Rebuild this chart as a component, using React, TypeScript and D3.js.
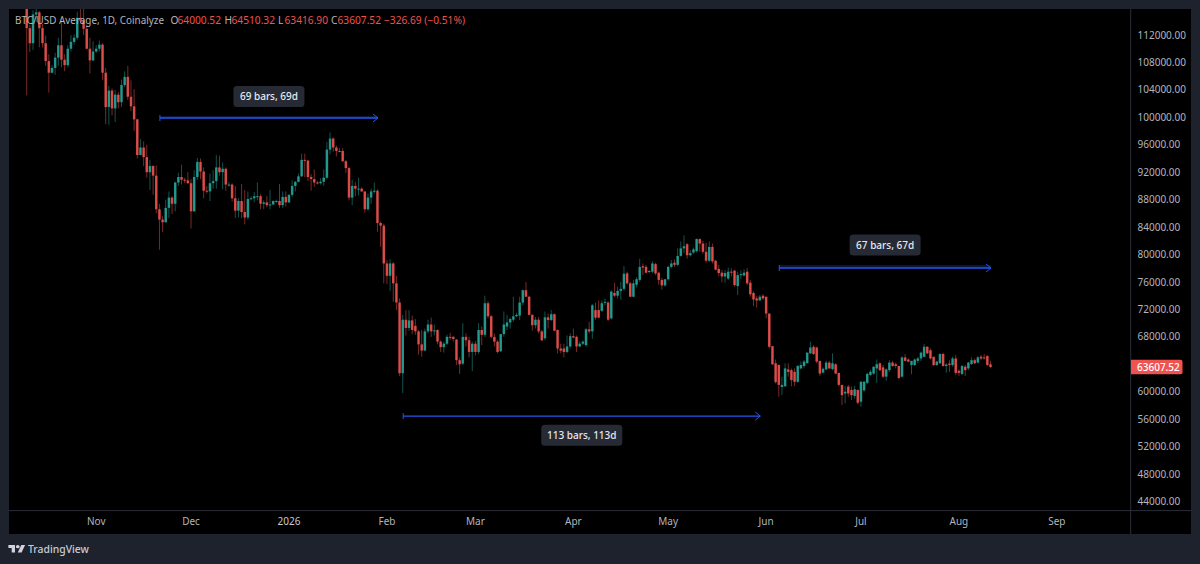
import React from 'react';
import * as d3 from 'd3';

// Daily OHLC in thousands of USD, one value per bar from 2025-10-10
const opens = [
121.5,113.0,110.8,115.0,115.3,113.0,110.8,108.2,106.5,107.2,
108.7,110.5,108.4,107.6,110.0,111.0,111.6,114.5,114.1,112.9,
110.0,108.3,109.6,110.0,110.6,106.5,101.5,103.9,101.3,103.3,
102.2,104.7,105.9,103.0,101.6,99.7,94.5,95.6,94.2,92.0,
92.9,91.5,86.6,85.1,84.7,86.8,88.3,87.4,90.5,91.3,
90.9,90.8,90.4,86.3,91.3,93.5,92.1,89.3,89.2,90.4,
90.7,92.7,92.0,92.5,90.2,90.2,88.2,86.4,87.8,86.2,
85.4,88.1,88.2,88.5,88.5,87.4,87.6,87.2,87.3,87.8,
87.8,87.2,88.4,87.6,88.7,90.0,90.6,91.4,93.8,93.7,
91.3,91.0,90.5,90.4,90.6,91.2,95.3,96.9,95.6,95.1,
95.1,93.6,92.6,88.3,90.0,89.6,89.6,89.2,86.6,88.3,
89.2,89.3,84.6,84.2,78.7,76.9,78.7,75.8,73.0,62.7,
70.5,69.3,70.4,69.6,68.8,66.9,66.0,68.8,69.8,68.8,
69.0,67.3,66.5,67.0,68.0,68.0,67.6,64.6,64.1,68.0,
67.5,65.8,67.0,65.8,69.0,68.3,72.9,71.0,68.0,67.3,
65.9,68.4,69.5,70.1,70.5,71.0,71.1,73.0,74.8,73.85,
71.2,69.7,70.5,68.8,67.8,70.85,70.45,71.3,69.0,66.3,
66.3,65.8,66.6,68.1,68.0,66.6,67.0,66.8,69.1,68.8,
71.9,71.9,71.8,73.0,73.0,70.7,74.4,74.0,74.7,75.0,
77.25,75.8,73.85,75.6,76.3,78.3,78.2,77.5,77.5,78.6,
77.35,76.3,75.5,76.4,78.2,78.8,78.5,79.8,80.9,81.5,
79.9,80.3,80.5,82.25,81.6,80.4,79.1,81.1,79.1,77.9,
77.35,76.8,76.5,77.5,77.65,75.4,77.0,76.95,77.5,75.9,
74.4,73.6,73.3,74.0,73.85,71.4,66.65,64.15,63.9,60.7,
60.8,63.25,63.15,62.9,61.45,63.4,63.75,64.15,65.6,66.55,
66.45,64.5,62.8,63.25,64.25,63.3,64.0,62.75,61.0,59.75,
60.75,60.25,59.4,60.25,58.55,60.2,61.3,62.45,62.65,63.4,
64.15,63.55,62.2,63.15,64.25,64.0,63.75,62.2,65.0,64.7,
63.9,63.9,64.5,64.85,65.1,66.55,66.05,65.1,63.9,64.15,
65.5,63.75,64.1,63.9,64.85,63.05,62.6,63.65,63.4,64.05,
64.6,64.25,65.1,65.0,65.2,64.00052];

const highs = [
122.5,113.5,115.6,115.9,115.5,113.6,111.9,109.2,107.6,109.4,
111.6,114.0,109.2,110.5,112.0,112.1,115.4,116.2,116.0,113.5,
111.6,111.1,110.5,111.2,110.8,107.2,104.6,104.2,104.0,103.7,
105.5,106.7,107.5,105.4,104.1,99.8,96.8,96.5,96.0,93.8,
93.0,93.0,87.4,85.6,88.0,89.2,88.5,90.6,91.9,93.1,
91.2,92.0,91.0,92.3,94.1,94.0,92.7,90.0,91.8,92.3,
94.5,94.4,93.4,92.7,90.6,90.4,90.0,88.2,90.3,89.4,
89.2,88.5,89.1,90.5,88.8,87.9,88.5,89.4,87.9,88.0,
90.3,89.2,89.2,88.8,90.8,90.7,91.8,94.7,94.7,93.8,
91.7,92.4,90.7,91.1,92.4,96.4,97.8,97.1,95.9,95.5,
95.5,93.8,92.8,90.9,90.6,91.2,89.8,89.2,88.9,89.6,
90.5,89.5,84.8,84.5,79.2,79.3,78.9,76.9,73.6,71.2,
71.9,71.9,71.1,70.6,69.0,69.0,69.2,70.5,70.8,69.8,
69.1,67.5,67.3,68.3,68.6,68.1,67.7,65.0,70.0,68.5,
68.0,67.3,67.4,70.0,69.5,74.0,73.2,71.2,68.5,67.5,
68.4,71.7,71.2,70.8,73.85,71.5,73.85,74.9,76.0,74.0,
71.3,70.9,70.9,69.0,71.7,71.4,71.9,71.4,69.1,67.0,
67.0,68.2,68.5,69.2,68.2,67.3,67.5,69.3,70.2,72.8,
73.0,73.3,73.3,73.6,73.2,74.8,75.9,75.3,76.0,78.3,
77.5,76.0,76.3,76.7,79.4,78.7,78.5,77.75,79.0,78.8,
77.5,76.6,76.4,78.4,79.2,79.3,80.9,81.9,82.8,81.7,
80.6,81.0,82.35,82.35,82.0,81.7,81.9,81.6,79.2,78.5,
77.75,77.75,78.1,78.0,77.75,77.5,77.7,77.85,78.0,76.3,
74.6,73.95,74.1,74.2,73.85,71.4,66.65,64.7,64.0,62.2,
64.15,64.15,63.4,63.4,63.9,64.4,64.6,65.7,67.3,66.8,
66.55,64.5,63.55,64.5,64.5,65.6,64.15,62.75,61.0,60.85,
61.0,60.75,60.85,60.35,61.55,61.6,62.8,63.2,63.65,64.7,
64.25,63.9,63.4,64.6,64.5,64.25,63.75,65.2,65.5,64.85,
64.5,64.85,65.1,65.85,66.95,66.65,66.3,65.1,64.5,65.6,
65.7,64.15,64.6,65.1,65.35,63.25,63.9,63.9,64.35,65.0,
64.85,65.2,65.35,65.5,65.35,64.51032];

const lows = [
103.2,109.5,109.8,113.9,110.2,110.2,107.5,103.6,106.4,106.2,
107.5,107.3,106.7,107.3,109.6,110.6,111.3,113.8,112.0,109.9,
106.4,108.2,109.4,109.6,105.4,99.0,98.9,100.3,99.3,101.3,
101.5,104.4,102.5,100.9,98.0,94.0,94.9,92.9,91.2,89.4,
88.7,86.0,80.7,83.3,84.7,85.3,85.9,86.3,90.0,90.2,
90.4,90.3,83.8,86.2,90.9,91.0,88.2,88.9,87.8,89.6,
89.6,91.5,89.5,89.3,89.9,87.7,85.3,85.4,85.3,84.4,
85.1,87.9,87.6,87.9,86.6,86.6,86.9,86.6,87.2,87.5,
86.8,86.8,87.0,87.5,88.4,89.2,90.5,91.3,91.3,90.7,
89.3,89.9,90.2,90.2,90.0,91.0,94.6,95.0,94.3,94.9,
93.5,91.9,87.9,87.2,88.5,88.6,89.1,86.1,86.4,87.4,
88.9,83.3,81.1,75.8,75.7,74.7,73.1,71.9,62.3,59.8,
68.2,68.9,68.4,68.3,65.4,65.1,65.9,68.5,68.0,68.2,
66.9,65.8,65.7,66.8,67.5,67.3,63.9,62.6,63.9,66.6,
65.0,63.0,65.3,65.5,66.8,68.0,70.7,67.8,66.6,65.6,
65.8,68.0,69.0,69.2,70.2,70.9,70.45,72.6,73.8,71.1,
68.9,69.2,68.5,67.4,67.5,69.2,70.3,68.8,65.6,65.6,
65.0,65.6,66.3,67.8,65.8,66.5,66.8,66.55,68.5,67.7,
70.5,70.7,71.6,72.6,70.3,70.5,73.8,73.6,73.4,74.7,
75.6,73.85,73.75,75.2,76.0,77.0,77.25,77.25,77.25,77.0,
75.6,74.9,75.3,76.2,78.0,78.2,78.3,79.7,80.2,79.4,
79.7,80.1,80.3,80.4,80.1,78.8,78.9,78.7,77.7,76.8,
76.0,75.9,76.3,76.8,75.3,74.1,76.4,76.8,75.5,73.85,
72.5,72.3,73.3,73.4,70.7,66.3,63.9,61.2,59.3,59.5,
60.7,62.2,60.8,60.8,61.3,63.25,63.4,64.15,65.5,65.35,
64.15,62.3,62.65,63.15,63.3,63.15,62.55,60.75,58.05,58.3,
59.25,58.8,59.0,58.2,57.8,60.0,61.1,62.3,62.45,61.3,
63.0,62.0,61.6,62.9,63.65,63.4,61.8,62.05,64.4,64.25,
62.55,63.75,64.15,64.5,65.0,65.5,64.7,63.75,63.75,64.05,
63.65,62.75,62.9,63.65,62.4,62.3,62.4,62.3,63.15,63.9,
64.0,64.15,64.6,64.7,63.75,63.4169];

const closes = [
113.0,110.8,115.0,115.3,113.0,110.8,108.2,106.5,107.2,108.7,
110.5,108.4,107.6,110.0,111.0,111.6,114.5,114.1,112.9,110.0,
108.3,109.6,110.0,110.6,106.5,101.5,103.9,101.3,103.3,102.2,
104.7,105.9,103.0,101.6,99.7,94.5,95.6,94.2,92.0,92.9,
91.5,86.6,85.1,84.7,86.8,88.3,87.4,90.5,91.3,90.9,
90.8,90.4,86.3,91.3,93.5,92.1,89.3,89.2,90.4,90.7,
92.7,92.0,92.5,90.2,90.2,88.2,86.4,87.8,86.2,85.4,
88.1,88.2,88.5,88.5,87.4,87.6,87.2,87.3,87.8,87.8,
87.2,88.4,87.6,88.7,90.0,90.6,91.4,93.8,93.7,91.3,
91.0,90.5,90.4,90.6,91.2,95.3,96.9,95.6,95.1,95.1,
93.6,92.6,88.3,90.0,89.6,89.6,89.2,86.6,88.3,89.2,
89.3,84.6,84.2,78.7,76.9,78.7,75.8,73.0,62.7,70.5,
69.3,70.4,69.0,68.8,66.9,66.0,68.8,69.8,68.8,68.95,
67.3,66.5,67.0,68.0,67.9,67.7,64.6,64.0,68.0,67.5,
65.8,67.0,65.8,69.0,68.3,72.9,71.0,68.0,67.3,65.8,
68.4,69.8,70.1,70.6,71.0,71.2,73.0,74.8,73.85,71.2,
69.7,70.5,68.8,67.5,70.85,70.45,71.3,68.9,66.3,66.0,
65.8,66.6,68.1,67.9,66.6,67.0,67.3,69.1,68.8,72.6,
70.8,70.8,72.9,73.1,70.5,74.6,74.0,74.7,75.0,77.2,
75.8,73.85,75.8,76.4,78.2,78.1,77.35,77.6,78.7,77.25,
76.3,75.5,76.4,78.2,78.7,78.5,79.8,80.9,81.2,79.9,
80.2,80.75,82.25,81.6,80.4,79.1,81.1,79.0,77.8,77.3,
76.8,77.3,77.5,77.4,75.55,77.0,77.15,77.35,75.8,74.2,
73.45,73.3,73.85,73.6,71.4,66.55,64.0,61.4,61.0,61.0,
63.4,62.9,61.7,61.45,63.75,63.9,64.4,65.7,66.45,65.5,
64.4,62.65,63.35,64.25,63.4,64.15,62.65,61.0,59.5,60.0,
59.75,59.5,60.35,58.4,61.45,61.45,62.6,62.9,63.65,64.0,
63.15,62.2,63.25,64.25,63.75,63.75,62.0,65.0,64.5,64.4,
64.5,64.7,64.85,65.7,66.55,65.6,64.85,63.9,64.4,65.5,
63.75,63.95,63.9,64.85,62.75,62.75,63.75,63.15,64.25,64.6,
64.15,65.0,64.85,64.85,63.9,63.60752];

const priceTicks = [112,108,104,100,96,92,88,84,80,76,72,68,60,56,52,48,44];
const monthDates = ['2025-11-01','2025-12-01','2026-01-01','2026-02-01','2026-03-01','2026-04-01','2026-05-01','2026-06-01','2026-07-01','2026-08-01','2026-09-01'];
const monthLabels = ['Nov','Dec','2026','Feb','Mar','Apr','May','Jun','Jul','Aug','Sep'];

const rangeStarts = [42, 119, 238];
const rangeEnds = [111, 232, 305];
const rangeLevels = [99.9, 56.45, 78.03];
const rangeTexts = ['69 bars, 69d', '113 bars, 113d', '67 bars, 67d'];
const rangeBoxLevels = [103.04, 53.65, 81.4];
const rangeBands = [0.3, 0, 0.45];

const firstBar = new Date('2025-10-10T00:00:00Z');
const lastPrice = 63.60752;

const UP = '#26a69a';
const DOWN = '#ef5350';
const MUTED = '#b2b5be';
const FONT = '"Noto Sans", "Open Sans", sans-serif';

const x = d3.scaleLinear().domain([0, 326]).range([26.7, 26.7 + 326 * 3.16]);
const y = d3.scaleLinear().domain([44, 112]).range([501.5, 35]);
const barOf = (s: string) => d3.utcDay.count(firstBar, new Date(s + 'T00:00:00Z'));

const legendParts: [number, string, string, number | undefined][] = [
  [15, 'BTC/USD Average, 1D, Coinalyze', MUTED, 149],
  [170.5, 'O', MUTED, undefined], [177.5, '64000.52', DOWN, undefined],
  [224.5, 'H', MUTED, undefined], [231.5, '64510.32', DOWN, undefined],
  [278, 'L', MUTED, undefined], [284.5, '63416.90', DOWN, undefined],
  [331, 'C', MUTED, undefined], [337.5, '63607.52', DOWN, undefined],
  [384, '\u2212326.69 (\u22120.51%)', DOWN, undefined],
];

export default function App() {
  return (
    <svg width={1200} height={564} style={{ position: 'fixed', left: 0, top: 0, display: 'block' }} fontFamily={FONT}>
      <defs>
        <clipPath id="pane"><rect x={9} y={9} width={1122} height={501} /></clipPath>
      </defs>
      <rect width={1200} height={564} fill="#1e222d" />
      <rect x={9} y={9} width={1182} height={525} fill="#000" />
      <line x1={1130.7} x2={1130.7} y1={9} y2={534} stroke="#2a2e39" />
      <line x1={9} x2={1191} y1={510.6} y2={510.6} stroke="#2a2e39" />

      <g clipPath="url(#pane)">
        {closes.map((c, i) => {
          const col = c >= opens[i] ? UP : DOWN;
          const top = y(Math.max(c, opens[i]));
          const bot = y(Math.min(c, opens[i]));
          return (
            <g key={i}>
              <line x1={x(i)} x2={x(i)} y1={y(highs[i])} y2={y(lows[i])} stroke={col} strokeOpacity={0.5} strokeWidth={1} />
              <rect x={x(i) - 1.25} width={2.5} y={top} height={Math.max(bot - top, 1)} fill={col} fillOpacity={0.88} />
            </g>
          );
        })}
      </g>

      {rangeTexts.map((t, k) => {
        const x1 = x(rangeStarts[k]) + 0.5;
        const x2 = x(rangeEnds[k]) + 0.5;
        const ly = y(rangeLevels[k]);
        const by = y(rangeBoxLevels[k]);
        const cx = (x1 + x2) / 2;
        const w = t.length > 12 ? 81 : 71;
        return (
          <g key={t}>
            <rect x={x1} width={x2 - x1} y={y(rangeLevels[k] + rangeBands[k])} height={ly - y(rangeLevels[k] + rangeBands[k])} fill="#2962ff" fillOpacity={0.22} />
            <line x1={x1} x2={x2} y1={ly} y2={ly} stroke="#2457ee" strokeWidth={k === 1 ? 1.1 : 1.5} />
            <line x1={x1} x2={x1} y1={ly - 3} y2={ly + 3} stroke="#2457ee" strokeWidth={1} />
            <path d={`M${x2 - 5},${ly - 4}L${x2},${ly}L${x2 - 5},${ly + 4}`} fill="none" stroke="#2457ee" strokeWidth={1} />
            <rect x={cx - w / 2} y={by - 10.5} width={w} height={21} rx={3.5} fill="#262a35" />
            <text x={cx} y={by + 3.6} textAnchor="middle" fontSize={10} fontWeight={500} fill="#e6e8ee">{t}</text>
          </g>
        );
      })}

      {legendParts.map(([lx, s, col, len]) => (
        <text key={s} x={lx} y={24} fontSize={10.2} fill={col} textLength={len} lengthAdjust={len ? 'spacingAndGlyphs' : undefined}>{s}</text>
      ))}

      {priceTicks.map((t) => (
        <text key={t} x={1137.5} y={y(t) + 3.6} fontSize={10} fill={MUTED}>{(t * 1000).toFixed(2)}</text>
      ))}
      <path d={`M1131,${y(lastPrice) - 7.2}h49.5a2,2 0 0 1 2,2v10.4a2,2 0 0 1 -2,2h-49.5z`} fill={DOWN} />
      <text x={1137} y={y(lastPrice) + 3.6} fontSize={10} fontWeight={500} fill="#fff">{(lastPrice * 1000).toFixed(2)}</text>

      {monthLabels.map((m, k) => (
        <text key={m} x={x(barOf(monthDates[k]))} y={525} textAnchor="middle" fontSize={10} fill={m === '2026' ? '#c8cad1' : MUTED}>{m}</text>
      ))}

      <g transform="translate(8.4,543.3) scale(0.47,0.42)" fill="#d1d4dc">
        <path d="M14 22H7V11H0V4h14v18zM28 22h-8l7.5-18h8L28 22z" />
        <circle cx={20} cy={8} r={4} />
      </g>
      <text x={28} y={552.5} fontSize={10.4} fontWeight={500} fill="#c9ccd4">TradingView</text>
    </svg>
  );
}
